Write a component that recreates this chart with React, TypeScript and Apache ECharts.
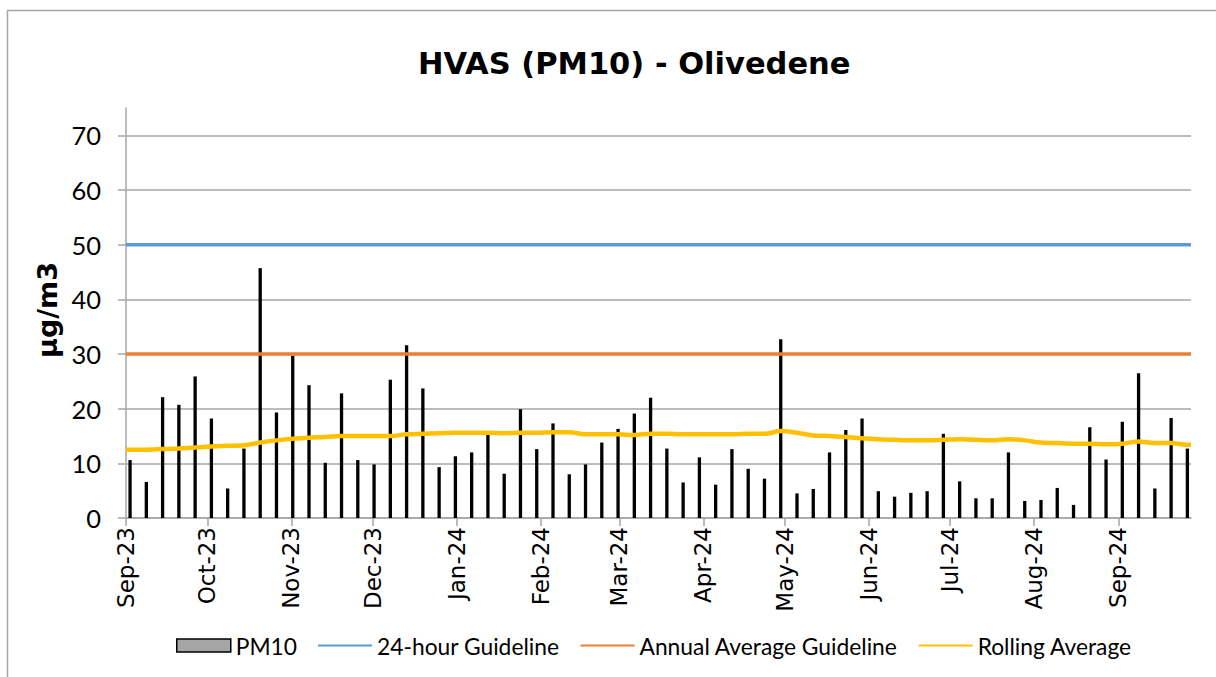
import React, { useEffect, useRef } from "react";
import * as echarts from "echarts";

const sampleDates = [
  "2023-09-02", "2023-09-08", "2023-09-14", "2023-09-20", "2023-09-26",
  "2023-10-02", "2023-10-08", "2023-10-14", "2023-10-20", "2023-10-26",
  "2023-11-01", "2023-11-07", "2023-11-13", "2023-11-19", "2023-11-25",
  "2023-12-01", "2023-12-07", "2023-12-13", "2023-12-19", "2023-12-25",
  "2023-12-31", "2024-01-06", "2024-01-12", "2024-01-18", "2024-01-24",
  "2024-01-30", "2024-02-05", "2024-02-11", "2024-02-17", "2024-02-23",
  "2024-02-29", "2024-03-06", "2024-03-12", "2024-03-18", "2024-03-24",
  "2024-03-30", "2024-04-05", "2024-04-11", "2024-04-17", "2024-04-23",
  "2024-04-29", "2024-05-05", "2024-05-11", "2024-05-17", "2024-05-23",
  "2024-05-29", "2024-06-04", "2024-06-10", "2024-06-16", "2024-06-22",
  "2024-06-28", "2024-07-04", "2024-07-10", "2024-07-16", "2024-07-22",
  "2024-07-28", "2024-08-03", "2024-08-09", "2024-08-15", "2024-08-21",
  "2024-08-27", "2024-09-02", "2024-09-08", "2024-09-14", "2024-09-20",
  "2024-09-26",
];

const pm10 = [
  10.6, 6.6, 22.1, 20.7, 25.9, 18.2, 5.4, 12.7, 45.7, 19.3,
  29.7, 24.3, 10.1, 22.8, 10.6, 9.8, 25.3, 31.6, 23.7, 9.3,
  11.3, 12.0, 15.2, 8.1, 19.9, 12.6, 17.3, 8.0, 9.8, 13.8,
  16.3, 19.1, 22.0, 12.7, 6.5, 11.1, 6.1, 12.6, 9.0, 7.2,
  32.7, 4.5, 5.3, 12.0, 16.1, 18.2, 4.9, 3.9, 4.6, 4.9,
  15.4, 6.7, 3.6, 3.6, 12.0, 3.1, 3.3, 5.5, 2.4, 16.6,
  10.7, 17.6, 26.5, 5.4, 18.3, 12.7,
];

const rollingAvg = [
  12.5, 12.5, 12.6, 12.7, 12.9, 13.1, 13.2, 13.3, 13.8, 14.2,
  14.5, 14.7, 14.8, 15.0, 15.0, 15.0, 15.0, 15.3, 15.4, 15.5,
  15.6, 15.6, 15.6, 15.5, 15.6, 15.6, 15.7, 15.7, 15.3, 15.3,
  15.3, 15.2, 15.4, 15.4, 15.3, 15.3, 15.3, 15.3, 15.4, 15.4,
  15.9, 15.6, 15.1, 15.0, 14.8, 14.6, 14.4, 14.3, 14.2, 14.2,
  14.3, 14.4, 14.3, 14.2, 14.4, 14.2, 13.8, 13.7, 13.6, 13.6,
  13.5, 13.6, 14.0, 13.7, 13.7, 13.4,
];

const guideline24h = 50;
const guidelineAnnual = 30;

const monthTicks = [
  "2023-09-01", "2023-10-01", "2023-11-01", "2023-12-01", "2024-01-01",
  "2024-02-01", "2024-03-01", "2024-04-01", "2024-05-01", "2024-06-01",
  "2024-07-01", "2024-08-01", "2024-09-01",
];
const monthLabels = [
  "Sep-23", "Oct-23", "Nov-23", "Dec-23", "Jan-24", "Feb-24", "Mar-24",
  "Apr-24", "May-24", "Jun-24", "Jul-24", "Aug-24", "Sep-24",
];
const yTicks = [0, 10, 20, 30, 40, 50, 60, 70];

const axisStart = "2023-09-01";
const axisEnd = "2024-09-27";

function ts(d: string, hour = 0): number {
  const [y, m, day] = d.split("-").map(Number);
  return new Date(y, m - 1, day, hour).getTime();
}

export default function App() {
  const ref = useRef<HTMLDivElement>(null);
  useEffect(() => {
    if (!ref.current) return;
    const chart = echarts.init(ref.current, undefined, { renderer: "svg" });
    const xMin = ts(axisStart, 0);
    const xMax = ts(axisEnd, 20);
    const barData = sampleDates.map((d, i) => [ts(d, 12), pm10[i]]);
    const rollData = [
      [xMin, rollingAvg[0]],
      ...sampleDates.map((d, i) => [ts(d, 12), rollingAvg[i]]),
      [xMax, rollingAvg[rollingAvg.length - 1]],
    ];
    const tickVals = monthTicks.map((d) => ts(d));
    const font = "Lato, 'Noto Sans', sans-serif";
    const hiddenSymbol = { color: "rgba(0,0,0,0)", borderWidth: 0, opacity: 0 };
    chart.setOption({
      animation: false,
      backgroundColor: "#ffffff",
      title: {
        text: "HVAS (PM10) - Olivedene",
        left: 413,
        top: 43,
        textStyle: { fontFamily: "'DejaVu Sans', sans-serif", fontWeight: "bold", fontSize: 30.5, color: "#000" },
      },
      graphic: [
        {
          type: "rect",
          z: -10,
          shape: { x: 7.5, y: 10.5, width: 1300, height: 800 },
          style: { fill: "none", stroke: "#a6a6a6", lineWidth: 1.5 },
          silent: true,
        },
      ],
      grid: { left: 126, right: 25, top: 108, bottom: 159, containLabel: false },
      legend: {
        bottom: 15,
        left: 171,
        itemWidth: 54,
        itemHeight: 13,
        itemGap: 20,
        textStyle: { fontFamily: font, fontSize: 22.8, color: "#000" },
        data: [
          { name: "PM10", icon: "rect", itemStyle: { color: "#a5a5a5", borderColor: "#000", borderWidth: 1.5 } },
          { name: "24-hour Guideline", itemStyle: hiddenSymbol },
          { name: "Annual Average Guideline", itemStyle: hiddenSymbol },
          { name: "Rolling Average", itemStyle: hiddenSymbol },
        ],
      },
      xAxis: {
        type: "value",
        min: xMin,
        max: xMax,
        splitLine: { show: false },
        axisLine: { lineStyle: { color: "#a6a6a6", width: 1.5 } },
        axisTick: { show: true, length: 8, customValues: tickVals, lineStyle: { color: "#a6a6a6", width: 1.5 } },
        axisLabel: {
          customValues: tickVals,
          rotate: 90,
          margin: 9,
          hideOverlap: false,
          fontFamily: "'DejaVu Sans', sans-serif",
          fontSize: 23,
          color: "#000",
          formatter: (v: number) => {
            const i = tickVals.indexOf(v);
            return i >= 0 ? monthLabels[i] : "";
          },
        },
      },
      yAxis: {
        type: "value",
        min: 0,
        max: 75,
        name: "µg/m3",
        nameLocation: "middle",
        nameRotate: 90,
        nameGap: 62,
        nameTextStyle: {
          fontFamily: "'DejaVu Sans', sans-serif",
          fontWeight: "bold",
          fontSize: 27,
          color: "#000",
          padding: [0, 0, 0, 6],
        },
        axisLine: { show: true, lineStyle: { color: "#a6a6a6", width: 1.5 } },
        axisTick: { show: true, length: 8, customValues: yTicks, lineStyle: { color: "#a6a6a6", width: 1.5 } },
        axisLabel: { customValues: yTicks, margin: 25, fontFamily: font, fontSize: 25.5, color: "#000" },
        splitLine: { show: true, lineStyle: { color: "#a6a6a6", width: 1.5 } },
      },
      series: [
        {
          name: "PM10",
          type: "bar",
          data: barData,
          barWidth: 3.3,
          itemStyle: { color: "#000" },
          z: 2,
        },
        {
          name: "24-hour Guideline",
          type: "line",
          data: [[xMin, guideline24h], [xMax, guideline24h]],
          symbol: "none",
          lineStyle: { color: "#5b9bd5", width: 3.5 },
          itemStyle: { color: "#5b9bd5" },
          z: 3,
        },
        {
          name: "Annual Average Guideline",
          type: "line",
          data: [[xMin, guidelineAnnual], [xMax, guidelineAnnual]],
          symbol: "none",
          lineStyle: { color: "#ed7d31", width: 3.5 },
          itemStyle: { color: "#ed7d31" },
          z: 3,
        },
        {
          name: "Rolling Average",
          type: "line",
          data: rollData,
          symbol: "none",
          smooth: 0.3,
          lineStyle: { color: "#ffc000", width: 4.5 },
          itemStyle: { color: "#ffc000" },
          z: 4,
        },
      ],
    });
    return () => chart.dispose();
  }, []);
  return (
    <div
      ref={ref}
      style={{ position: "absolute", left: 0, top: 0, width: 1216, height: 677, background: "#fff" }}
    />
  );
}
